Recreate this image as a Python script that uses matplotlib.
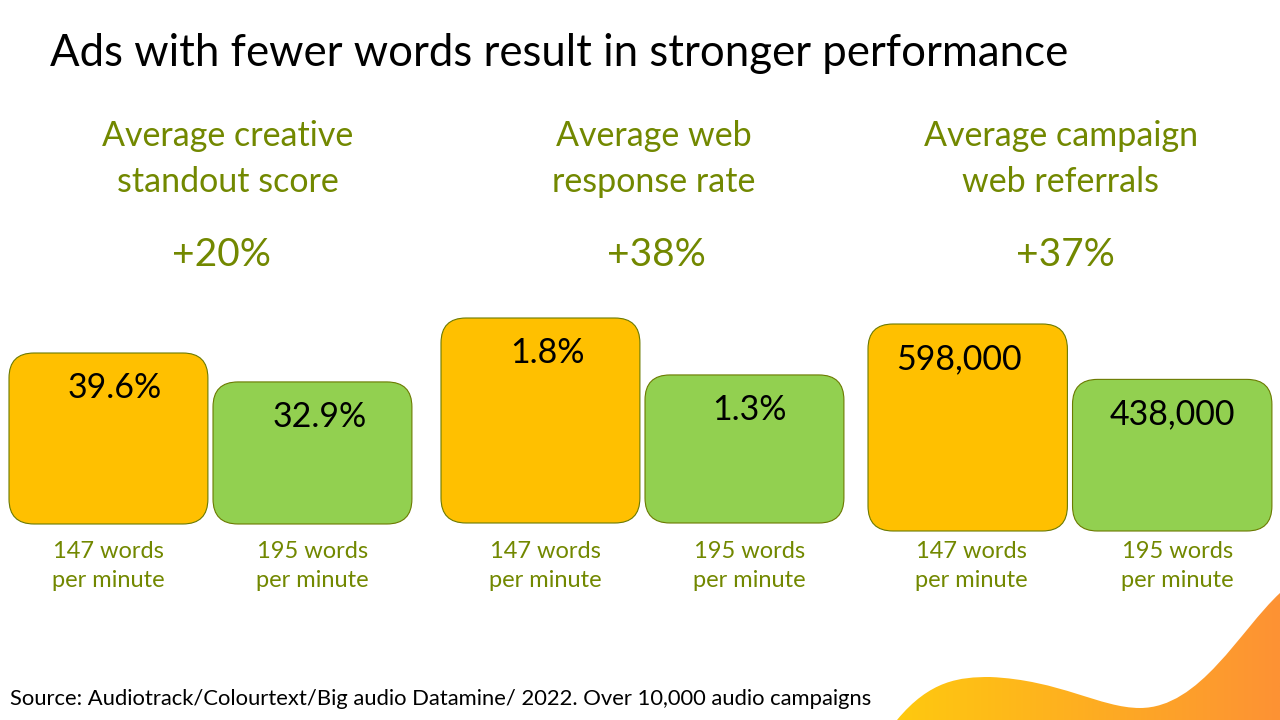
import numpy as np
import matplotlib.pyplot as plt
from matplotlib.patches import FancyBboxPatch, PathPatch
from matplotlib.path import Path
from matplotlib.colors import LinearSegmentedColormap

plt.rcParams['font.family'] = ['Lato', 'DejaVu Sans']

title = "Ads with fewer words result in stronger performance"
metrics = ["Average creative\nstandout score",
           "Average web\nresponse rate",
           "Average campaign\nweb referrals"]
uplifts = ["+20%", "+38%", "+37%"]
groups = ["147 words\nper minute", "195 words\nper minute"]
values_few = [39.6, 1.8, 598000]
values_many = [32.9, 1.3, 438000]
value_labels_few = ["39.6%", "1.8%", "598,000"]
value_labels_many = ["32.9%", "1.3%", "438,000"]
source = "Source: Audiotrack/Colourtext/Big audio Datamine/ 2022. Over 10,000 audio campaigns"

orange = "#FFC000"
green = "#92D050"
olive = "#728800"
edge = "#6B7A00"

W, H = 1280, 720
fig = plt.figure(figsize=(12.8, 7.2), dpi=100)

# panel placement in pixels: left, bar bottom, width, height of tallest bar
panels = [(9, 524, 403, 171), (441, 523, 403, 205), (868, 531, 404, 207)]
title_x = [228, 654, 1061]
uplift_x = [222, 656, 1065]
# small horizontal nudges (px) of the in-bar numbers and the group labels
value_dx = [(6, 7), (7, 5), (-9, 0)]
group_dx = [(0, 0), (5, 5), (4, 5)]
group_y = 566

for i, (left, bottom, width, height) in enumerate(panels):
    ax = fig.add_axes([left / W, (H - bottom) / H, width / W, height / H])
    ax.set_xlim(-0.4877, 1.4877)
    ax.set_ylim(0, values_few[i])
    ax.axis("off")

    # rounding radius ~25 px, corrected for the different x / y scales
    xpp = 1.975 / width
    ypp = values_few[i] / height
    r = 25 * xpp
    vals = [values_few[i], values_many[i]]
    labels = [value_labels_few[i], value_labels_many[i]]
    for j, (v, col) in enumerate(zip(vals, [orange, green])):
        box = FancyBboxPatch((j - 0.4877, 0), 0.975, v,
                             boxstyle=f"round,pad=0,rounding_size={r}",
                             mutation_aspect=ypp / xpp,
                             facecolor=col, edgecolor=edge, linewidth=0.8,
                             clip_on=False)
        ax.add_patch(box)
        ax.text(j + value_dx[i][j] * xpp, v - 35 * ypp, labels[j],
                ha="center", va="center", fontsize=24.5, color="black")
        ax.text(j + group_dx[i][j] * xpp, -(group_y - bottom) * ypp, groups[j],
                ha="center", va="center", fontsize=17, color=olive,
                linespacing=1.5)

    fig.text(title_x[i] / W, 1 - 159 / H, metrics[i], ha="center", va="center",
             fontsize=24.5, color=olive, linespacing=1.5)
    fig.text(uplift_x[i] / W, 1 - 255 / H, uplifts[i], ha="center", va="center",
             fontsize=28, color=olive)

fig.text(50 / W, 1 - 53 / H, title, ha="left", va="center", fontsize=31.5,
         color="black")
fig.text(10 / W, 1 - 699 / H, source, ha="left", va="center", fontsize=15.8,
         color="black")

# decorative wave bottom right with a yellow-orange gradient
deco = fig.add_axes([0, 0, 1, 1], zorder=-1)
deco.set_xlim(0, W)
deco.set_ylim(H, 0)
deco.axis("off")
verts = [(897, 720), (930, 680), (960, 677), (990, 677),
         (1060, 680), (1100, 708), (1140, 708),
         (1200, 708), (1240, 630), (1280, 593),
         (1280, 720), (897, 720)]
codes = [Path.MOVETO, Path.CURVE4, Path.CURVE4, Path.CURVE4,
         Path.CURVE4, Path.CURVE4, Path.CURVE4,
         Path.CURVE4, Path.CURVE4, Path.CURVE4,
         Path.LINETO, Path.CLOSEPOLY]
patch = PathPatch(Path(verts, codes), facecolor="none", edgecolor="none")
deco.add_patch(patch)
grad = np.linspace(0, 1, 256).reshape(1, -1)
cmap = LinearSegmentedColormap.from_list("wave", ["#FFC90F", "#FD9234"])
im = deco.imshow(grad, cmap=cmap, extent=[897, 1280, 720, 590], aspect="auto")
im.set_clip_path(patch)

fig.savefig("out.png", dpi=100)
